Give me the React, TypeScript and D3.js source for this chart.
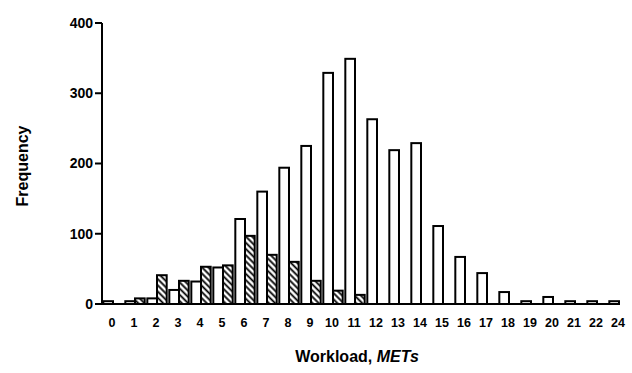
import React from "react";
import * as d3 from "d3";

// workload categories (METs); 23 is not shown on the original axis
const categories = ["0", "1", "2", "3", "4", "5", "6", "7", "8", "9", "10", "11", "12",
  "13", "14", "15", "16", "17", "18", "19", "20", "21", "22", "24"];
// open bars
const openValues = [4, 4, 8, 20, 32, 52, 121, 160, 194, 225, 329, 349, 263,
  219, 229, 111, 67, 44, 17, 4, 10, 4, 4, 4];
// hatched bars
const hatchedValues = [0, 8, 41, 33, 53, 55, 97, 70, 60, 33, 19, 13, 0,
  0, 0, 0, 0, 0, 0, 0, 0, 0, 0, 0];
const yTicks = [0, 100, 200, 300, 400];
const series = ["open", "hatched"];

export default function App() {
  const width = 632;
  const height = 373;
  const marginLeft = 102;
  const marginTop = 23;
  const baseY = 304;

  const x = d3.scaleBand().domain(categories).range([marginLeft, 630]).paddingInner(0.12).paddingOuter(0.06);
  const xs = d3.scaleBand().domain(series).range([0, x.bandwidth()]);
  const y = d3.scaleLinear().domain([0, 400]).range([baseY, marginTop]);

  const font = "'Liberation Sans', Arial, sans-serif";

  return (
    <svg width={width} height={height} style={{ position: "absolute", left: 0, top: 0, background: "#fff" }}>
      <defs>
        <pattern id="hatch" patternUnits="userSpaceOnUse" width={4.4} height={4.4} patternTransform="rotate(-45)">
          <rect width={4.4} height={4.4} fill="#fff" />
          <line x1={2.2} y1={-1} x2={2.2} y2={6} stroke="#000" strokeWidth={1.8} />
        </pattern>
      </defs>

      {categories.map((c, i) => (
        <g key={c}>
          {openValues[i] > 0 && (
            <rect x={x(c)! + xs("open")!} y={y(openValues[i])} width={xs.bandwidth()}
              height={baseY - y(openValues[i])} fill="#fff" stroke="#000" strokeWidth={2} />
          )}
          {hatchedValues[i] > 0 && (
            <rect x={x(c)! + xs("hatched")!} y={y(hatchedValues[i])} width={xs.bandwidth()}
              height={baseY - y(hatchedValues[i])} fill="url(#hatch)" stroke="#000" strokeWidth={2} />
          )}
        </g>
      ))}

      {/* y axis */}
      <line x1={marginLeft} x2={marginLeft} y1={y(400)} y2={baseY} stroke="#000" strokeWidth={2} />
      {yTicks.map((t) => (
        <g key={t} transform={`translate(0,${y(t)})`}>
          <line x1={marginLeft - 7} x2={marginLeft} stroke="#000" strokeWidth={2} />
          <text x={marginLeft - 9} dy="0.35em" textAnchor="end" fontFamily={font} fontWeight="bold" fontSize={14}>
            {t}
          </text>
        </g>
      ))}

      {/* x axis */}
      <line x1={marginLeft - 7} x2={620} y1={baseY} y2={baseY} stroke="#000" strokeWidth={2} />
      {categories.map((c) => (
        <text key={c} x={x(c)! + x.bandwidth() / 2 - 1} y={baseY + 23} textAnchor="middle"
          fontFamily={font} fontWeight="bold" fontSize={12.5}>
          {c}
        </text>
      ))}

      <text transform="translate(28,166) rotate(-90)" textAnchor="middle" fontFamily={font}
        fontWeight="bold" fontSize={16}>
        Frequency
      </text>
      <text x={357} y={362} textAnchor="middle" fontFamily={font} fontWeight="bold" fontSize={16}>
        Workload, <tspan fontStyle="italic">METs</tspan>
      </text>
    </svg>
  );
}
